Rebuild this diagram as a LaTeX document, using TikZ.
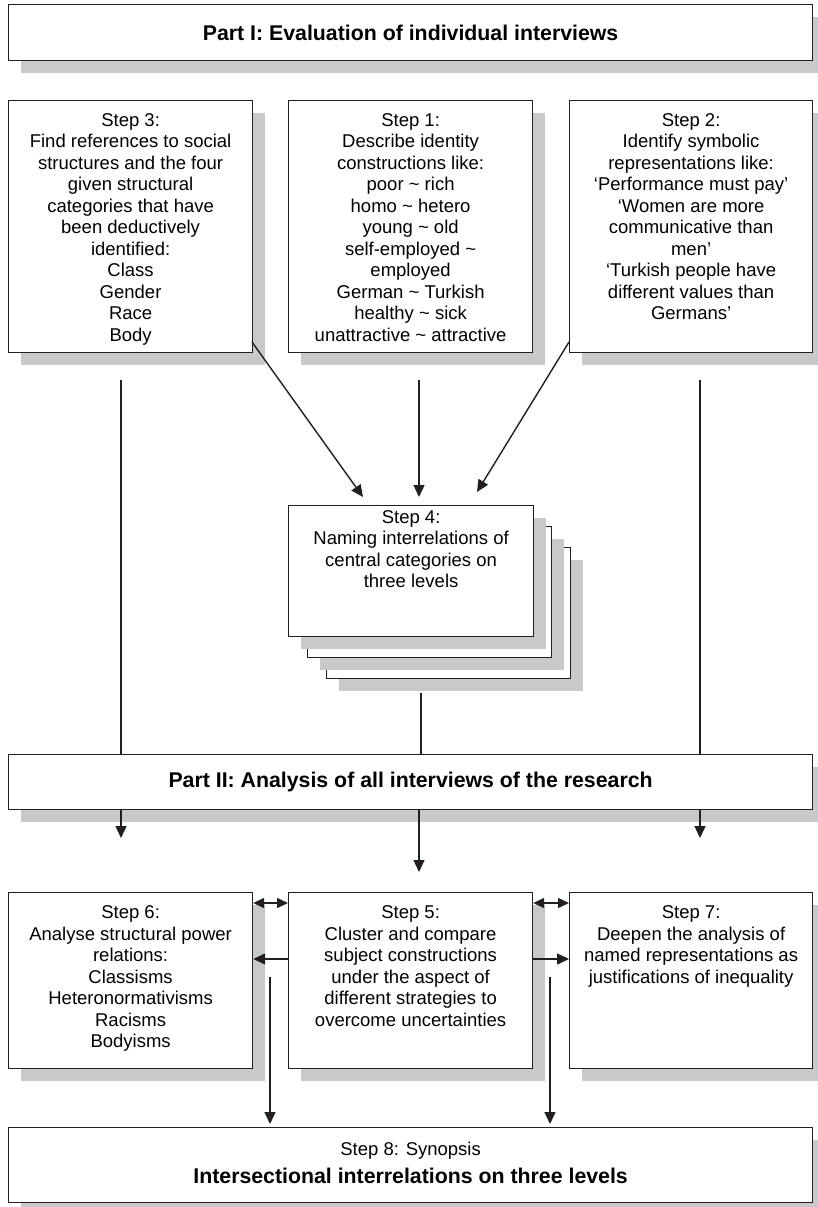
\documentclass[tikz,border=0pt]{standalone}
\usepackage{fontspec}
\setmainfont{Liberation Sans}
\usepackage{tikz}
\usetikzlibrary{positioning, arrows.meta, shadows}
\definecolor{trazo}{RGB}{35, 31, 32}
\definecolor{sombra}{RGB}{200, 201, 203}
\newcommand{\boxtext}[4]{\parbox[t][#2][t]{#1}{\centering\rule{0pt}{#3}#4}}
\tikzset{
    stepbox/.style={draw=trazo, fill=white, line width=1.2pt, inner sep=0pt, anchor=north west,
        font=\fontsize{18.5}{21.5}\selectfont,
        drop shadow={shadow xshift=12pt, shadow yshift=-12.5pt, fill=sombra, opacity=1}},
    partbox/.style={stepbox, minimum width=804pt, font=\bfseries\fontsize{21.3}{25}\selectfont},
    emptybox/.style={stepbox, minimum width=244pt, minimum height=131pt},
    conn/.style={-, draw=trazo, line width=1.4pt},
    arr/.style={conn, -{Triangle[length=12pt, width=11pt]}},
    dbl/.style={conn, {Triangle[length=11pt, width=10pt]}-{Triangle[length=11pt, width=10pt]}},
}
\begin{document}
\begin{tikzpicture}[x=1pt, y=-1pt]
    \useasboundingbox (0,0) rectangle (817,1207);

    % Part I
    \node[partbox, minimum height=56pt] (p1) at (8,4) {Part I: Evaluation of individual interviews};

    \node[stepbox] (s3) at (8,100) {\boxtext{244pt}{252pt}{25.5pt}{Step 3:\\Find references to social\\structures and the four\\given structural\\categories that have\\been deductively\\identified:\\Class\\Gender\\Race\\Body}};
    \node[stepbox] (s1) at (288,100) {\boxtext{244pt}{252pt}{25.5pt}{Step 1:\\Describe identity\\constructions like:\\poor \textasciitilde{} rich\\homo \textasciitilde{} hetero\\young \textasciitilde{} old\\self-employed \textasciitilde\\employed\\German \textasciitilde{} Turkish\\healthy \textasciitilde{} sick\\unattractive \textasciitilde{} attractive}};
    \node[stepbox] (s2) at (569,100) {\boxtext{243pt}{252pt}{25.5pt}{Step 2:\\Identify symbolic\\representations like:\\‘Performance must pay’\\‘Women are more\\communicative than\\men’\\‘Turkish people have\\different values than\\Germans’}};

    % Step 4 stack
    \node[emptybox] (s4c) at (326,547) {};
    \node[emptybox] (s4b) at (307,526) {};
    \node[stepbox] (s4) at (288,505) {\boxtext{245pt}{131pt}{17.5pt}{Step 4:\\Naming interrelations of\\central categories on\\three levels}};

    % Part II
    \node[partbox, minimum height=55pt] (p2) at (8,754) {Part II: Analysis of all interviews of the research};

    \node[stepbox] (s6) at (8,892) {\boxtext{244pt}{176pt}{26pt}{Step 6:\\Analyse structural power\\relations:\\Classisms\\Heteronormativisms\\Racisms\\Bodyisms}};
    \node[stepbox] (s5) at (288,892) {\boxtext{244pt}{176pt}{26pt}{Step 5:\\Cluster and compare\\subject constructions\\under the aspect of\\different strategies to\\overcome uncertainties}};
    \node[stepbox] (s7) at (569,892) {\boxtext{243pt}{176pt}{26pt}{Step 7:\\Deepen the analysis of\\named representations as\\justifications of inequality}};

    \node[stepbox] (s8) at (8,1127) {\boxtext{804pt}{75pt}{27.5pt}{Step 8: Synopsis\\[6.5pt]{\bfseries\fontsize{21.3}{25}\selectfont Intersectional interrelations on three levels}}};

    % free ends
    \coordinate (c3) at (121,380);
    \coordinate (c1) at (419,380);
    \coordinate (c2) at (700,380);
    \coordinate (c3a) at (252,342);
    \coordinate (c3b) at (363,497);
    \coordinate (c1b) at (419,497);
    \coordinate (c2a) at (569,342);
    \coordinate (c2b) at (477,492);
    \coordinate (c4) at (421,693);
    \coordinate (d6) at (121,838);
    \coordinate (d5) at (419,872);
    \coordinate (d7) at (700,838);
    \coordinate (e6) at (270,977);
    \coordinate (e7) at (550,977);

    \draw[conn] (c3) -- (c3 |- p2.north);
    \draw[conn] (c2) -- (c2 |- p2.north);
    \draw[conn] (c4) -- (c4 |- p2.north);
    \draw[arr] (c1) -- (c1b);
    \draw[arr] (c3a) -- (c3b);
    \draw[arr] (c2a) -- (c2b);

    \draw[arr] (d6 |- p2.south) -- (d6);
    \draw[arr] (d5 |- p2.south) -- (d5);
    \draw[arr] (d7 |- p2.south) -- (d7);

    \draw[dbl] ([yshift=-11pt]s6.north east) -- ([yshift=-11pt]s5.north west);
    \draw[dbl] ([yshift=-11pt]s5.north east) -- ([yshift=-11pt]s7.north west);
    \draw[arr] ([yshift=-67pt]s5.north west) -- ([yshift=-67pt]s6.north east);
    \draw[arr] ([yshift=-67pt]s5.north east) -- ([yshift=-67pt]s7.north west);

    \draw[arr, shorten >=3pt] (e6) -- (e6 |- s8.north);
    \draw[arr, shorten >=3pt] (e7) -- (e7 |- s8.north);
\end{tikzpicture}
\end{document}
